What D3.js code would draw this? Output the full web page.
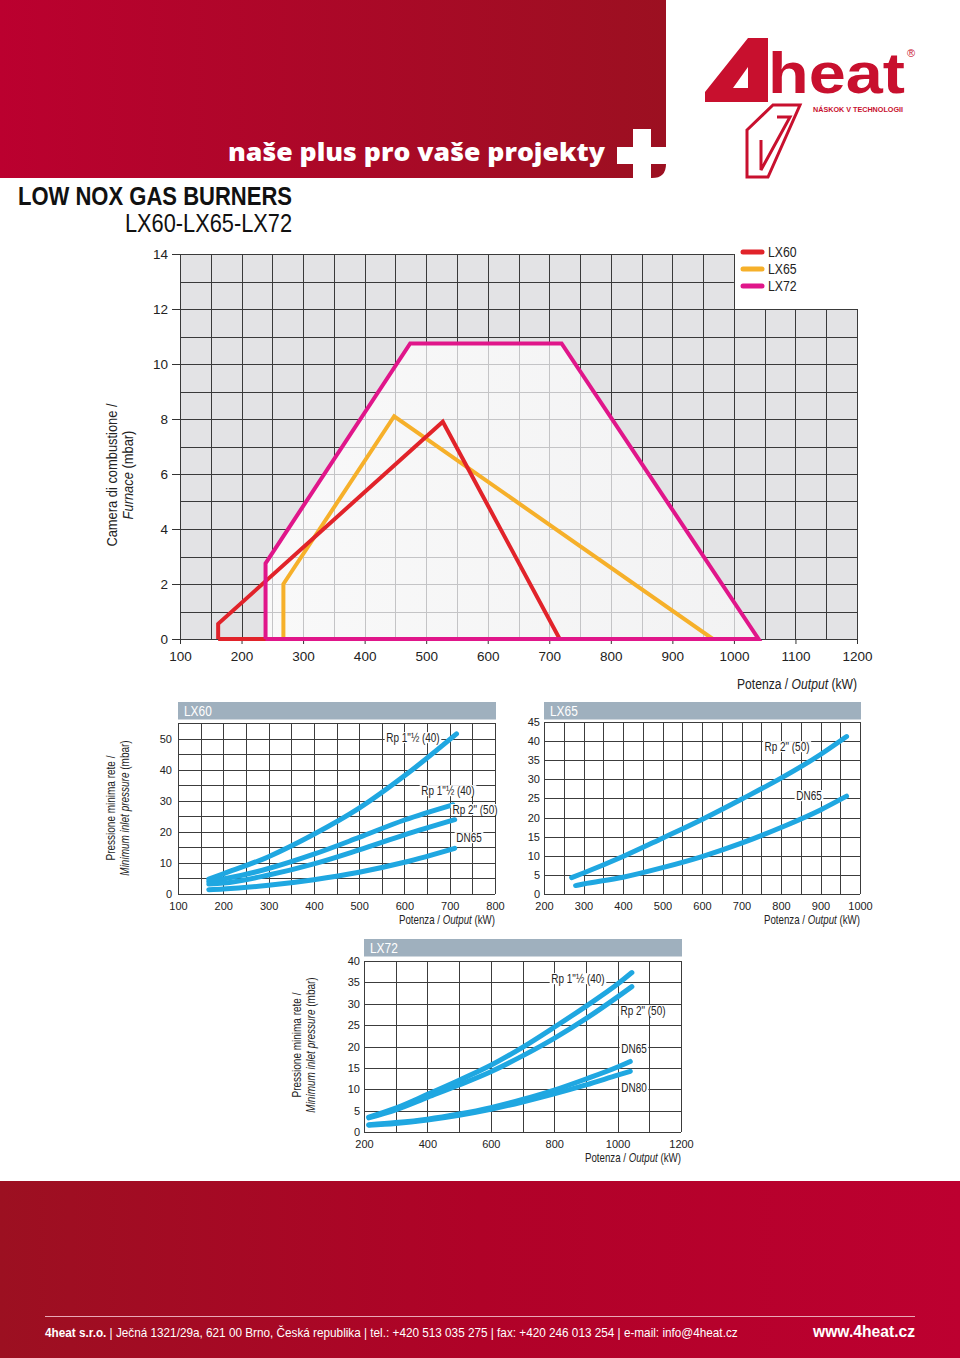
<!DOCTYPE html>
<html><head><meta charset="utf-8">
<script src="https://cdn.jsdelivr.net/npm/d3@7"></script>
<style>
body{margin:0;background:#fff}
svg{display:block}
text{font-family:"Liberation Sans Narrow","Arial Narrow","Liberation Sans",Arial,sans-serif}
</style>
</head><body>
<svg id="c" width="960" height="1358"></svg>
<script>
// ---------------- DATA ----------------
const mainSeries = ["LX60", "LX65", "LX72"];
const lx60Envelope = [[162,0],[162,0.55],[527,7.9],[717,0],[162,0]];
const lx65Envelope = [[268,0],[268,2.0],[448,8.1],[966,0],[268,0]];
const lx72Envelope = [[239,0],[239,2.75],[474,10.75],[720,10.75],[1040,0],[239,0]];
const mainXTicks = [100,200,300,400,500,600,700,800,900,1000,1100,1200];
const mainYTicks = [0,2,4,6,8,10,12,14];

const lx60Labels = ['Rp 1"½ (40)', 'Rp 1"½ (40)', 'Rp 2" (50)', 'DN65'];
const lx60Rp15a = [[168,4.8],[200,6.5],[300,12],[400,19.2],[500,27.6],[600,38],[715,51.5]];
const lx60Rp15b = [[168,4.0],[200,4.8],[300,8.2],[400,12.8],[500,18.2],[600,23.8],[707,28.7]];
const lx60Rp2   = [[168,3.2],[200,3.5],[300,6.1],[400,9.7],[500,14.2],[600,19],[711,23.9]];
const lx60DN65  = [[168,1.4],[200,1.6],[300,2.8],[400,4.6],[500,7.0],[600,10.2],[711,14.7]];
const lx60XTicks = [100,200,300,400,500,600,700,800];
const lx60YTicks = [0,10,20,30,40,50];

const lx65Labels = ['Rp 2" (50)', 'DN65'];
const lx65Rp2  = [[270,4.3],[300,5.5],[400,9.8],[500,14.6],[600,19.5],[700,24.8],[800,30.3],[900,36.5],[966,41.2]];
const lx65DN65 = [[280,2.2],[300,2.6],[400,4.4],[500,6.9],[600,9.8],[700,13.3],[800,17.4],[900,22],[966,25.6]];
const lx65XTicks = [200,300,400,500,600,700,800,900,1000];
const lx65YTicks = [0,5,10,15,20,25,30,35,40,45];

const lx72Labels = ['Rp 1"½ (40)', 'Rp 2" (50)', 'DN65', 'DN80'];
const lx72Rp15 = [[215,3.5],[300,5.6],[400,8.8],[500,12.1],[600,15.6],[700,19.8],[800,24.5],[900,29.4],[1000,34.6],[1045,37.3]];
const lx72Rp2  = [[215,3.3],[300,5.2],[400,8.1],[500,11],[600,14.1],[700,17.8],[800,21.9],[900,26.5],[1000,31.6],[1045,34]];
const lx72DN65 = [[215,1.7],[300,2.2],[400,3.0],[500,4.2],[600,5.7],[700,7.6],[800,9.8],[900,12.4],[1000,15.2],[1040,16.5]];
const lx72DN80 = [[215,1.6],[300,2.0],[400,2.8],[500,3.9],[600,5.3],[700,7.0],[800,8.9],[900,11.0],[1000,13.3],[1040,14.2]];
const lx72XTicks = [200,400,600,800,1000,1200];
const lx72YTicks = [0,5,10,15,20,25,30,35,40];

// ---------------- STYLE ----------------
const seriesColor = {LX60:"#e1232a", LX65:"#f6b02a", LX72:"#e0168a"};
const blue = "#1fa7e1";
const numFont = "'Liberation Sans',Arial,sans-serif";
const svg = d3.select("#c");
const defs = svg.append("defs");
// condensed text (no condensed font installed): anchor at (px,py), optional rotation, horizontal squeeze f
function ntext(parent, px, py, f, rot) {
  return parent.append("text")
    .attr("transform", `translate(${px},${py})` + (rot ? ` rotate(${rot})` : "") + ` scale(${f},1)`);
}

// ---------------- HEADER ----------------
const hg = defs.append("linearGradient").attr("id","hg").attr("x1",0).attr("x2",1);
hg.append("stop").attr("offset",0).attr("stop-color","#bb002f");
hg.append("stop").attr("offset",1).attr("stop-color","#9c1021");
svg.append("path").attr("d","M0,0H666V164Q666,178 652,178H0Z").attr("fill","url(#hg)");
svg.append("rect").attr("x",617).attr("y",147).attr("width",49).attr("height",17).attr("fill","#fff");
svg.append("rect").attr("x",633).attr("y",129).attr("width",18).attr("height",49).attr("fill","#fff");
svg.append("text").attr("x",228).attr("y",161).attr("textLength",377).attr("lengthAdjust","spacingAndGlyphs")
  .style("font-family","'Open Sans',Lato,sans-serif").style("font-weight",800).style("font-size","25px")
  .attr("fill","#fff").text("naše plus pro vaše projekty");

// logo
const logoRed = "#c8102e";
svg.append("path").attr("fill-rule","evenodd").attr("fill",logoRed)
  .attr("d","M748,38H768V102H705V92Z M733,88H748V67Z");
svg.append("path").attr("fill","#fff").attr("stroke",logoRed).attr("stroke-width",3).attr("stroke-linejoin","miter")
  .attr("d","M747,130L773,105H800L768,177H747Z");
svg.append("path").attr("fill","none").attr("stroke",logoRed).attr("stroke-width",3)
  .attr("d","M777,117H790L761,170V140");
svg.append("text").attr("x",768).attr("y",93).attr("textLength",137).attr("lengthAdjust","spacingAndGlyphs")
  .style("font-family",numFont).style("font-weight",700).style("font-size","58px")
  .attr("fill",logoRed).text("heat");
svg.append("text").attr("x",907).attr("y",57).style("font-family",numFont)
  .style("font-size","11px").attr("fill",logoRed).text("®");
svg.append("text").attr("x",813).attr("y",112).attr("textLength",90).attr("lengthAdjust","spacingAndGlyphs")
  .style("font-weight",700).style("font-size","7.5px").attr("fill",logoRed).text("NÁSKOK V TECHNOLOGII");

// titles
svg.append("text").attr("x",18).attr("y",205).attr("textLength",274).attr("lengthAdjust","spacingAndGlyphs")
  .style("font-weight",700).style("font-size","25px").attr("fill","#111").text("LOW NOX GAS BURNERS");
svg.append("text").attr("x",125).attr("y",232).attr("textLength",167).attr("lengthAdjust","spacingAndGlyphs")
  .style("font-size","25px").attr("fill","#111").text("LX60-LX65-LX72");

// ---------------- MAIN CHART ----------------
const x = d3.scaleLinear().domain([100,1200]).range([180,857]);
const y = d3.scaleLinear().domain([0,14]).range([639,254]);
const main = svg.append("g");
const bgPoly = [[100,0],[100,14],[1000,14],[1000,12],[1200,12],[1200,0]];
const polyPath = pts => "M" + pts.map(p => x(p[0])+","+y(p[1])).join("L") + "Z";
main.append("path").attr("d", polyPath(bgPoly)).attr("fill","#e3e3e5");

function mainGrid(g, color) {
  for (let v = 100; v <= 1200; v += 50) {
    const top = v <= 1000 ? 14 : 12;
    g.append("line").attr("x1",Math.round(x(v))+0.5).attr("x2",Math.round(x(v))+0.5)
      .attr("y1",y(0)).attr("y2",y(top)).attr("stroke",color).attr("stroke-width",1);
  }
  for (let h = 0; h <= 14; h += 1) {
    const right = h <= 12 ? 1200 : 1000;
    g.append("line").attr("x1",x(100)).attr("x2",x(right))
      .attr("y1",Math.round(y(h))+0.5).attr("y2",Math.round(y(h))+0.5).attr("stroke",color).attr("stroke-width",1);
  }
}
mainGrid(main.append("g"), "#3a3a3a");

defs.append("clipPath").attr("id","env").append("path").attr("d", polyPath(lx72Envelope));
const fg = defs.append("linearGradient").attr("id","fg").attr("x1",0).attr("x2",1);
fg.append("stop").attr("offset",0).attr("stop-color","#fafafa");
fg.append("stop").attr("offset",1).attr("stop-color","#f1f1f2");
const inner = main.append("g").attr("clip-path","url(#env)");
inner.append("rect").attr("x",x(100)).attr("y",y(14)).attr("width",x(1200)-x(100)).attr("height",y(0)-y(14)).attr("fill","url(#fg)");
mainGrid(inner.append("g"), "#c4c4c6");

// axes
const fmt = d3.format("d");
const ya = main.append("g").attr("transform",`translate(${x(100)},0)`)
  .call(d3.axisLeft(y).tickValues(mainYTicks).tickFormat(fmt).tickSize(8).tickPadding(4));
ya.select(".domain").remove();
ya.selectAll(".tick line").attr("stroke","#333");
ya.selectAll("text").style("font-family",numFont).style("font-size","13.5px").attr("fill","#222");
const xa = main.append("g").attr("transform",`translate(0,${y(0)})`)
  .call(d3.axisBottom(x).tickValues(mainXTicks).tickFormat(fmt).tickSize(5).tickPadding(7));
xa.select(".domain").remove();
xa.selectAll(".tick line").attr("stroke","#333");
xa.selectAll("text").style("font-family",numFont).style("font-size","13.5px").attr("fill","#222");

// envelopes
const envLine = d3.line().x(d => x(d[0])).y(d => y(d[1]));
[["LX65",lx65Envelope],["LX60",lx60Envelope],["LX72",lx72Envelope]].forEach(([k,d]) => {
  main.append("path").attr("d", envLine(d)).attr("fill","none").attr("stroke",seriesColor[k])
    .attr("stroke-width",4).attr("stroke-linejoin","miter");
});

// legend
mainSeries.forEach((k,i) => {
  const ly = 252 + i*17;
  svg.append("line").attr("x1",743).attr("x2",762).attr("y1",ly).attr("y2",ly)
    .attr("stroke",seriesColor[k]).attr("stroke-width",5).attr("stroke-linecap","round");
  ntext(svg, 768, ly+5, 0.82).style("font-size","15px").attr("fill","#222").text(k);
});

// axis titles
function rotTitle(cx, cy, l1, l2parts, size, f) {
  ntext(svg, cx, cy, f, -90).attr("text-anchor","middle")
    .style("font-size",size+"px").attr("fill","#222").text(l1);
  const t2 = ntext(svg, cx+size+1, cy, f, -90).attr("text-anchor","middle")
    .style("font-size",size+"px").attr("fill","#222");
  l2parts.forEach(p => t2.append("tspan").style("font-style",p[1]?"italic":"normal").text(p[0]));
}
rotTitle(117, 475, "Camera di combustione /", [["Furnace",true],[" (mbar)",false]], 15, 0.86);
function outputTitle(xr, yb, size) {
  const t = ntext(svg, xr, yb, 0.81).attr("text-anchor","end").style("font-size",size+"px").attr("fill","#222");
  t.append("tspan").text("Potenza / ");
  t.append("tspan").style("font-style","italic").text("Output");
  t.append("tspan").text(" (kW)");
}
outputTitle(857, 689, 15);

// ---------------- SMALL CHARTS ----------------
function smallChart(c) {
  const sx = d3.scaleLinear().domain(c.xd).range([c.left, c.right]);
  const sy = d3.scaleLinear().domain(c.yd).range([c.bottom, c.top]);
  const g = svg.append("g");
  g.append("rect").attr("x",c.left).attr("y",c.barY).attr("width",c.right-c.left+1).attr("height",17.5).attr("fill","#9fb0be");
  ntext(g, c.left+6, c.barY+14, 0.85).style("font-size","14px").attr("fill","#fff").text(c.title);
  g.append("rect").attr("x",c.left).attr("y",c.top).attr("width",c.right-c.left).attr("height",c.bottom-c.top).attr("fill","#fff");
  for (let v = c.xd[0]; v <= c.xd[1]; v += c.xs) {
    const px = Math.round(sx(v))+0.5;
    g.append("line").attr("x1",px).attr("x2",px).attr("y1",c.top).attr("y2",c.bottom).attr("stroke","#3c3c3c");
  }
  for (let v = c.yd[0]; v <= c.yd[1] + 1e-9; v += c.ys) {
    const py = Math.round(sy(v))+0.5;
    g.append("line").attr("x1",c.left).attr("x2",c.right).attr("y1",py).attr("y2",py).attr("stroke","#3c3c3c");
  }
  const ax = g.append("g").attr("transform",`translate(0,${c.bottom})`)
    .call(d3.axisBottom(sx).tickValues(c.xt).tickFormat(fmt).tickSize(0).tickPadding(8));
  ax.select(".domain").remove();
  ax.selectAll("text").style("font-family",numFont).style("font-size","11px").attr("fill","#222");
  const ay = g.append("g").attr("transform",`translate(${c.left},0)`)
    .call(d3.axisLeft(sy).tickValues(c.yt).tickFormat(fmt).tickSize(0).tickPadding(c.pad));
  ay.select(".domain").remove();
  ay.selectAll("text").style("font-family",numFont).style("font-size","11px").attr("fill","#222");
  const line = d3.line().x(d => sx(d[0])).y(d => sy(d[1])).curve(d3.curveMonotoneX);
  c.curves.forEach(d => {
    g.append("path").attr("d", line(d)).attr("fill","none").attr("stroke",blue)
      .attr("stroke-width",5).attr("stroke-linecap","round");
  });
  c.labels.forEach((txt,i) => {
    const [lx,ly] = c.labelPos[i];
    const f = 0.83;
    const t = ntext(g, lx, ly+4, f).attr("text-anchor","middle")
      .style("font-size","12px").attr("fill","#222").text(txt);
    const b = t.node().getBBox();
    g.insert("rect", () => t.node()).attr("x",lx + (b.x-2)*f).attr("y",ly+4+b.y+1)
      .attr("width",(b.width+4)*f).attr("height",b.height-2).attr("fill","#fff");
  });
  outputTitle(c.right, c.bottom+30, 12);
}

smallChart({title:"LX60", left:178, right:495, top:723, bottom:894, barY:702,
  xd:[100,800], yd:[0,55], xs:50, ys:5, xt:lx60XTicks, yt:lx60YTicks, pad:6,
  curves:[lx60Rp15a, lx60Rp15b, lx60Rp2, lx60DN65], labels:lx60Labels,
  labelPos:[[413,738],[448,791],[475,810],[469,838]]});
smallChart({title:"LX65", left:544, right:860, top:722, bottom:894, barY:702,
  xd:[200,1000], yd:[0,45], xs:50, ys:5, xt:lx65XTicks, yt:lx65YTicks, pad:4,
  curves:[lx65Rp2, lx65DN65], labels:lx65Labels,
  labelPos:[[787,747],[809,796]]});
smallChart({title:"LX72", left:364, right:681, top:961, bottom:1132, barY:939,
  xd:[200,1200], yd:[0,40], xs:100, ys:5, xt:lx72XTicks, yt:lx72YTicks, pad:4,
  curves:[lx72Rp15, lx72Rp2, lx72DN65, lx72DN80], labels:lx72Labels,
  labelPos:[[578,979],[643,1011],[634,1049],[634,1088]]});

rotTitle(115, 808, "Pressione minima rete /", [["Minimum inlet pressure",true],[" (mbar)",false]], 12.5, 0.8);
rotTitle(301, 1045, "Pressione minima rete /", [["Minimum inlet pressure",true],[" (mbar)",false]], 12.5, 0.8);

// ---------------- FOOTER ----------------
const fgr = defs.append("linearGradient").attr("id","ftg").attr("x1",0).attr("x2",1);
fgr.append("stop").attr("offset",0).attr("stop-color","#9c1021");
fgr.append("stop").attr("offset",0.5).attr("stop-color","#b00228");
fgr.append("stop").attr("offset",1).attr("stop-color","#bd0030");
svg.append("rect").attr("x",0).attr("y",1181).attr("width",960).attr("height",177).attr("fill","url(#ftg)");
svg.append("line").attr("x1",45).attr("x2",915).attr("y1",1316.5).attr("y2",1316.5).attr("stroke","#e9a8b6").attr("stroke-width",1);
const ft = ntext(svg, 45, 1337, 0.905).style("font-size","13px").attr("fill","#fff");
ft.append("tspan").style("font-weight",700).text("4heat s.r.o.");
ft.append("tspan").text("  |  Ječná 1321/29a, 621 00 Brno, Česká republika  |  tel.: +420 513 035 275  |  fax: +420 246 013 254  |  e-mail: info@4heat.cz");
svg.append("text").attr("x",915).attr("y",1337).attr("text-anchor","end").attr("textLength",102).attr("lengthAdjust","spacingAndGlyphs")
  .style("font-weight",700).style("font-size","16px").attr("fill","#fff").text("www.4heat.cz");
</script>
</body></html>
